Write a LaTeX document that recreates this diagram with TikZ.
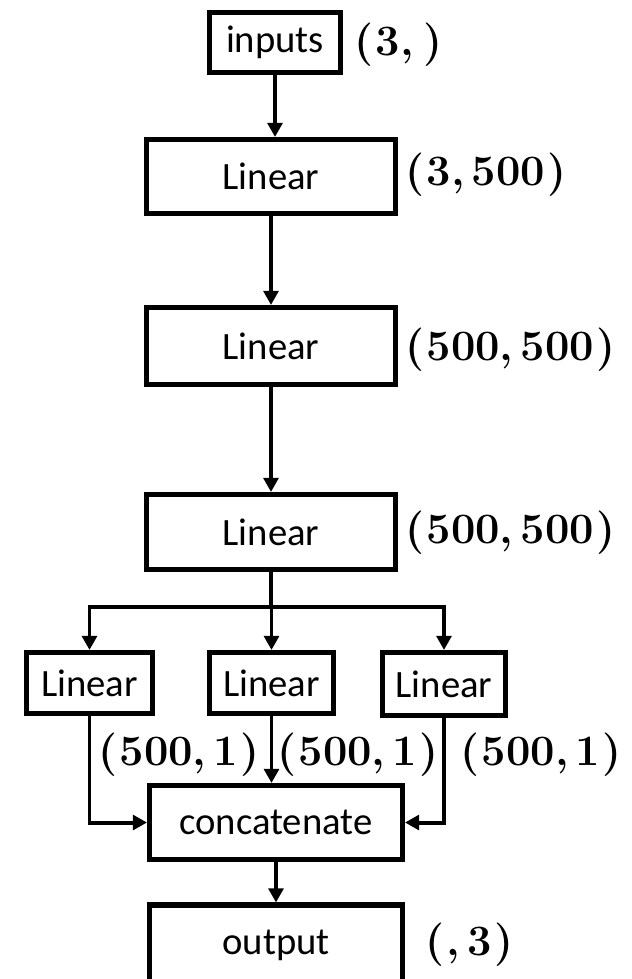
\documentclass[tikz,border=0pt]{standalone}
\usepackage{fontspec}
\usepackage{amsmath}
\usetikzlibrary{arrows.meta}
\newfontfamily\boxfont{Carlito}
\newcommand{\gap}{\hspace{0.06em}}

\begin{document}
\begin{tikzpicture}[x=0.03cm, y=-0.03cm,
    layer/.style={draw, line width=4.3pt, fill=white, inner sep=0pt,
        font=\boxfont\fontsize{33}{40}\selectfont},
    dims/.style={anchor=west, inner sep=0pt, font=\fontsize{37}{44}\selectfont\bfseries},
    flow/.style={line width=3.4pt, -{Triangle[length=0.42cm, width=0.44cm]}}]
    \useasboundingbox (0,0) rectangle (631,979);
    % main stack
    \node[layer, minimum width=131*0.03cm, minimum height=60*0.03cm] (inputs) at (275,42.5) {inputs};
    \node[layer, minimum width=249*0.03cm, minimum height=74*0.03cm] (lin1) at (271,176.5) {Linear};
    \node[layer, minimum width=249*0.03cm, minimum height=77*0.03cm] (lin2) at (271,346) {Linear};
    \node[layer, minimum width=249*0.03cm, minimum height=75*0.03cm] (lin3) at (271,532) {Linear};
    % three heads
    \node[layer, minimum width=126*0.03cm, minimum height=61*0.03cm] (headA) at (89.5,683) {Linear};
    \node[layer, minimum width=124*0.03cm, minimum height=61*0.03cm] (headB) at (271.5,683) {Linear};
    \node[layer, minimum width=123*0.03cm, minimum height=63*0.03cm] (headC) at (444,684) {Linear};
    \node[layer, minimum width=253*0.03cm, minimum height=74*0.03cm] (concat) at (276,822.5) {concatenate};
    \node[layer, minimum width=253*0.03cm, minimum height=80*0.03cm] (output) at (276,945) {output};
    % shapes
    \node[dims] (dimIn) at (354,45) {(\gap3,\,\gap)};
    \node[dims] (dim1) at (405,175) {(\gap3,\,500\gap)};
    \node[dims] (dim2) at (405,350) {(\gap500,\,500\gap)};
    \node[dims] (dim3) at (405,533) {(\gap500,\,500\gap)};
    \node[dims] (dimA) at (98,755) {(\gap500,\,1\gap)};
    \node[dims] (dimB) at (277,755) {(\gap500,\,1\gap)};
    \node[dims] (dimC) at (460,755) {(\gap500,\,1\gap)};
    \node[dims] (dimOut) at (425,945) {(\gap,\,3\gap)};
    % connectors
    \draw[flow] (inputs.south) -- (inputs.south |- lin1.north);
    \draw[flow] (lin1.south) -- (lin2.north);
    \draw[flow] (lin2.south) -- (lin3.north);
    \coordinate (split) at (lin3.south |- 0,607);
    \draw[line width=3.4pt] (lin3.south) -- (split);
    \draw[flow] (split) -| (headA.north);
    \draw[flow] (split) -| (headB.north);
    \draw[flow] (split) -| (headC.north);
    \draw[flow] (headA.south) |- (concat.west);
    \draw[flow] (headB.south) -- (headB.south |- concat.north);
    \draw[flow] (headC.south) |- (concat.east);
    \draw[flow] (concat.south) -- (output.north);
\end{tikzpicture}
\end{document}
